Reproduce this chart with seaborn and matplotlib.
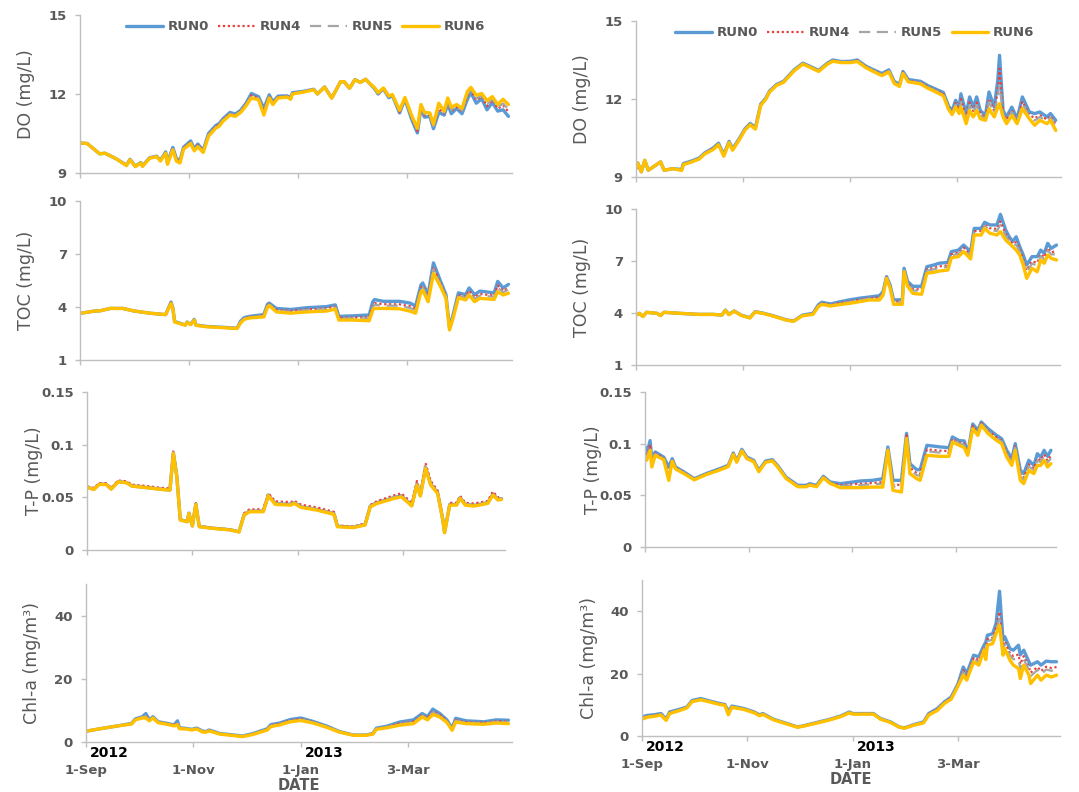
import matplotlib
matplotlib.use("Agg")
import matplotlib.pyplot as plt
import seaborn as sns
import pandas as pd

# ---- data: days since 1 Sep 2012 ----
# left column (site A)
DO_A_DAY = [0, 4, 11, 14, 20, 26, 28, 31, 34, 35,
            39, 43, 45, 48, 49, 52, 54, 56, 58, 62,
            64, 66, 69, 72, 76, 78, 80, 84, 87, 90,
            93, 96, 100, 103, 106, 108, 111, 116, 118, 119,
            125, 131, 133, 137, 141, 146, 148, 151, 154, 157,
            160, 162, 165, 167, 170, 173, 175, 179, 182, 186,
            189, 191, 193, 196, 198, 201, 204, 206, 208, 211,
            214, 217, 219, 222, 225, 228, 231, 234, 237, 240]
DO_A_RUN0 = [10.14, 10.12, 9.73, 9.75, 9.55, 9.30, 9.52, 9.26, 9.40, 9.27,
             9.58, 9.64, 9.48, 9.80, 9.40, 9.97, 9.55, 9.47, 9.98, 10.22,
             9.92, 10.10, 9.86, 10.50, 10.80, 10.88, 11.05, 11.30, 11.24, 11.38,
             11.65, 12.02, 11.90, 11.45, 11.97, 11.70, 11.92, 11.93, 11.86, 12.05,
             12.10, 12.18, 12.00, 12.27, 11.85, 12.47, 12.46, 12.22, 12.55, 12.44,
             12.56, 12.42, 12.20, 12.00, 12.20, 11.86, 11.94, 11.28, 11.80, 11.00,
             10.52, 11.45, 11.12, 11.15, 10.68, 11.30, 11.20, 11.62, 11.25, 11.45,
             11.25, 11.80, 12.05, 11.65, 11.82, 11.40, 11.68, 11.35, 11.40, 11.15]
DO_A_RUN4 = [10.14, 10.12, 9.73, 9.75, 9.55, 9.29, 9.51, 9.25, 9.39, 9.26,
             9.57, 9.63, 9.47, 9.78, 9.37, 9.93, 9.51, 9.43, 9.95, 10.18,
             9.89, 10.06, 9.83, 10.46, 10.76, 10.84, 11.01, 11.26, 11.20, 11.35,
             11.61, 11.95, 11.85, 11.35, 11.92, 11.66, 11.89, 11.91, 11.84, 12.03,
             12.09, 12.17, 12.00, 12.27, 11.85, 12.47, 12.46, 12.22, 12.55, 12.44,
             12.56, 12.42, 12.22, 12.02, 12.21, 11.88, 11.96, 11.32, 11.83, 11.06,
             10.59, 11.51, 11.19, 11.20, 10.75, 11.44, 11.26, 11.71, 11.35, 11.51,
             11.33, 11.92, 12.13, 11.77, 11.90, 11.54, 11.77, 11.45, 11.56, 11.33]
DO_A_RUN5 = [10.14, 10.12, 9.73, 9.75, 9.55, 9.29, 9.51, 9.25, 9.39, 9.26,
             9.57, 9.63, 9.46, 9.77, 9.36, 9.92, 9.49, 9.42, 9.93, 10.16,
             9.87, 10.04, 9.81, 10.44, 10.74, 10.82, 10.99, 11.24, 11.19, 11.33,
             11.59, 11.92, 11.83, 11.30, 11.90, 11.64, 11.88, 11.90, 11.82, 12.02,
             12.08, 12.17, 12.00, 12.26, 11.84, 12.47, 12.47, 12.22, 12.54, 12.44,
             12.56, 12.42, 12.22, 12.03, 12.22, 11.90, 11.96, 11.34, 11.84, 11.09,
             10.63, 11.54, 11.23, 11.23, 10.78, 11.51, 11.29, 11.76, 11.40, 11.54,
             11.37, 11.98, 12.17, 11.83, 11.94, 11.61, 11.81, 11.50, 11.64, 11.42]
DO_A_RUN6 = [10.14, 10.12, 9.73, 9.75, 9.55, 9.28, 9.50, 9.24, 9.38, 9.25,
             9.56, 9.62, 9.45, 9.75, 9.33, 9.88, 9.45, 9.38, 9.90, 10.12,
             9.84, 10.00, 9.78, 10.40, 10.70, 10.78, 10.96, 11.20, 11.15, 11.30,
             11.55, 11.85, 11.78, 11.20, 11.85, 11.60, 11.85, 11.88, 11.80, 12.00,
             12.07, 12.16, 12.00, 12.26, 11.84, 12.47, 12.47, 12.22, 12.54, 12.44,
             12.56, 12.42, 12.24, 12.05, 12.23, 11.92, 11.98, 11.38, 11.87, 11.15,
             10.70, 11.60, 11.30, 11.28, 10.85, 11.65, 11.35, 11.85, 11.50, 11.60,
             11.45, 12.10, 12.25, 11.95, 12.02, 11.75, 11.90, 11.60, 11.80, 11.60]

TOC_A_DAY = [0, 5, 8, 11, 17, 24, 30, 39, 48, 50,
             51, 52, 53, 56, 59, 60, 62, 64, 65, 71,
             82, 88, 90, 92, 95, 103, 105, 106, 110, 118,
             127, 138, 143, 145, 153, 162, 164, 165, 170, 179,
             185, 188, 191, 192, 195, 198, 202, 205, 207, 209,
             212, 216, 218, 221, 224, 232, 234, 237, 240]
TOC_A_RUN0 = [3.64, 3.72, 3.77, 3.78, 3.92, 3.92, 3.78, 3.65, 3.57, 4.05,
              4.28, 3.95, 3.18, 3.08, 2.98, 3.15, 3.02, 3.30, 2.98, 2.90,
              2.84, 2.80, 3.20, 3.40, 3.47, 3.57, 4.15, 4.22, 3.92, 3.86,
              3.96, 4.02, 4.12, 3.47, 3.50, 3.55, 4.30, 4.42, 4.32, 4.32,
              4.22, 4.05, 5.25, 5.36, 4.70, 6.50, 5.45, 4.70, 2.82, 3.56,
              4.80, 4.70, 5.08, 4.70, 4.90, 4.80, 5.45, 5.08, 5.28]
TOC_A_RUN4 = [3.64, 3.72, 3.77, 3.78, 3.92, 3.92, 3.78, 3.65, 3.57, 4.03,
              4.25, 3.93, 3.17, 3.07, 2.98, 3.14, 3.01, 3.28, 2.97, 2.89,
              2.83, 2.79, 3.16, 3.36, 3.43, 3.52, 4.08, 4.16, 3.84, 3.78,
              3.86, 3.92, 4.02, 3.39, 3.40, 3.42, 4.11, 4.22, 4.16, 4.15,
              4.04, 3.89, 5.10, 5.20, 4.54, 6.26, 5.33, 4.62, 2.77, 3.48,
              4.69, 4.58, 4.92, 4.54, 4.74, 4.65, 5.22, 4.92, 5.08]
TOC_A_RUN5 = [3.64, 3.72, 3.77, 3.78, 3.92, 3.92, 3.78, 3.65, 3.57, 4.02,
              4.23, 3.92, 3.16, 3.07, 2.97, 3.14, 3.01, 3.28, 2.97, 2.89,
              2.83, 2.79, 3.14, 3.34, 3.42, 3.49, 4.05, 4.14, 3.80, 3.73,
              3.82, 3.87, 3.98, 3.34, 3.36, 3.35, 4.01, 4.12, 4.08, 4.07,
              3.94, 3.81, 5.02, 5.11, 4.46, 6.14, 5.27, 4.57, 2.75, 3.44,
              4.64, 4.52, 4.84, 4.46, 4.65, 4.58, 5.10, 4.84, 4.98]
TOC_A_RUN6 = [3.64, 3.72, 3.77, 3.78, 3.92, 3.92, 3.78, 3.65, 3.57, 4.00,
              4.20, 3.90, 3.15, 3.06, 2.97, 3.13, 3.00, 3.26, 2.96, 2.88,
              2.82, 2.78, 3.10, 3.30, 3.38, 3.44, 3.98, 4.08, 3.72, 3.65,
              3.72, 3.77, 3.88, 3.26, 3.26, 3.22, 3.82, 3.92, 3.92, 3.90,
              3.76, 3.65, 4.87, 4.95, 4.30, 5.90, 5.15, 4.49, 2.70, 3.36,
              4.53, 4.40, 4.68, 4.30, 4.49, 4.43, 4.87, 4.68, 4.78]

TP_A_DAY = [0, 4, 7, 11, 14, 18, 23, 26, 33, 43,
            48, 50, 52, 54, 58, 59, 61, 63, 65, 73,
            83, 88, 91, 94, 102, 105, 109, 118, 120, 124,
            133, 143, 145, 154, 161, 164, 168, 178, 182, 186,
            188, 191, 193, 196, 199, 203, 206, 207, 210, 214,
            216, 219, 224, 232, 235, 238, 240]
TP_A_RUN0 = [.0596, .0577, .0624, .0624, .0580, .0649, .0640, .0608, .0596, .0577,
             .0570, .0922, .0700, .0287, .0270, .0350, .0229, .0437, .0223, .0207,
             .0192, .0173, .0336, .0368, .0368, .0522, .0440, .0433, .0449, .0410,
             .0385, .0344, .0226, .0216, .0241, .0417, .0450, .0498, .0513, .0455,
             .0423, .0625, .0520, .0785, .0624, .0544, .0288, .0167, .0432, .0432,
             .0497, .0432, .0423, .0449, .0529, .0481, .0487]
TP_A_RUN4 = [.0605, .0588, .0635, .0635, .0590, .0660, .0652, .0620, .0610, .0590,
             .0585, .0945, .0715, .0290, .0275, .0355, .0232, .0445, .0226, .0210,
             .0196, .0178, .0350, .0385, .0387, .0540, .0462, .0455, .0468, .0430,
             .0405, .0362, .0232, .0222, .0252, .0428, .0465, .0520, .0538, .0478,
             .0442, .0655, .0545, .0825, .0655, .0565, .0295, .0170, .0448, .0448,
             .0515, .0448, .0442, .0465, .0555, .0498, .0505]
TP_A_RUN5 = [.0598, .0580, .0628, .0628, .0583, .0652, .0644, .0612, .0600, .0581,
             .0575, .0928, .0703, .0287, .0271, .0351, .0229, .0438, .0223, .0207,
             .0193, .0174, .0340, .0372, .0374, .0526, .0446, .0439, .0455, .0416,
             .0390, .0348, .0226, .0216, .0243, .0418, .0452, .0503, .0520, .0460,
             .0427, .0632, .0525, .0795, .0632, .0550, .0290, .0167, .0436, .0436,
             .0501, .0436, .0428, .0452, .0535, .0484, .0492]
TP_A_RUN6 = [.0594, .0575, .0622, .0622, .0578, .0647, .0638, .0606, .0594, .0575,
             .0568, .0916, .0695, .0284, .0268, .0347, .0227, .0433, .0221, .0205,
             .0190, .0171, .0332, .0363, .0363, .0515, .0433, .0426, .0442, .0404,
             .0379, .0338, .0221, .0212, .0237, .0410, .0442, .0490, .0505, .0448,
             .0417, .0616, .0512, .0774, .0616, .0537, .0284, .0164, .0426, .0426,
             .0490, .0426, .0417, .0442, .0521, .0474, .0480]

CHL_A_DAY = [0, 8, 17, 26, 28, 32, 34, 36, 38, 41,
             46, 50, 52, 53, 57, 60, 63, 66, 68, 70,
             76, 84, 89, 95, 103, 105, 110, 116, 122, 129,
             137, 144, 152, 159, 163, 165, 171, 178, 186, 191,
             194, 197, 201, 205, 208, 210, 216, 226, 233, 240]
CHL_A_RUN0 = [3.4, 4.2, 5.0, 5.9, 7.3, 8.0, 9.0, 7.0, 8.0, 6.4,
              5.9, 5.4, 6.7, 4.5, 4.3, 4.0, 4.4, 3.5, 3.3, 3.8,
              2.7, 2.2, 1.9, 2.7, 4.2, 5.5, 6.0, 7.1, 7.6, 6.5,
              5.0, 3.3, 2.2, 2.2, 2.7, 4.4, 5.0, 6.3, 7.0, 9.0,
              8.0, 10.4, 9.0, 7.0, 4.3, 7.5, 6.7, 6.4, 7.0, 6.9]
CHL_A_RUN4 = [3.4, 4.2, 5.0, 5.8, 7.2, 7.8, 8.4, 6.9, 7.8, 6.3,
              5.8, 5.3, 6.2, 4.4, 4.2, 3.9, 4.3, 3.4, 3.2, 3.7,
              2.6, 2.1, 1.8, 2.6, 4.0, 5.3, 5.8, 6.8, 7.3, 6.3,
              4.8, 3.2, 2.2, 2.2, 2.6, 4.2, 4.8, 5.9, 6.5, 8.6,
              7.6, 9.7, 8.6, 6.7, 4.1, 7.0, 6.3, 6.1, 6.6, 6.5]
CHL_A_RUN5 = [3.4, 4.2, 5.0, 5.8, 7.1, 7.8, 8.2, 6.8, 7.8, 6.2,
              5.7, 5.2, 6.0, 4.3, 4.2, 3.9, 4.2, 3.3, 3.2, 3.6,
              2.6, 2.1, 1.8, 2.5, 3.9, 5.1, 5.6, 6.6, 7.1, 6.2,
              4.8, 3.2, 2.1, 2.1, 2.6, 4.2, 4.7, 5.7, 6.3, 8.3,
              7.4, 9.4, 8.3, 6.5, 3.9, 6.8, 6.1, 5.9, 6.4, 6.3]
CHL_A_RUN6 = [3.4, 4.2, 5.0, 5.7, 7.0, 7.6, 7.6, 6.7, 7.6, 6.1,
              5.6, 5.1, 5.5, 4.2, 4.1, 3.8, 4.1, 3.2, 3.1, 3.5,
              2.5, 2.0, 1.7, 2.4, 3.8, 4.9, 5.4, 6.4, 6.8, 6.0,
              4.6, 3.1, 2.1, 2.1, 2.5, 4.0, 4.5, 5.3, 5.8, 7.9,
              7.0, 8.7, 7.9, 6.2, 3.7, 6.3, 5.8, 5.6, 6.0, 5.8]

# right column (site B)
DO_B_DAY = [0, 1, 3, 5, 7, 14, 16, 21, 26, 27,
            31, 36, 39, 44, 47, 50, 53, 55, 59, 62,
            65, 68, 71, 74, 76, 80, 84, 90, 95, 99,
            104, 109, 112, 117, 122, 126, 131, 135, 140, 144,
            147, 150, 152, 155, 162, 166, 171, 175, 178, 180,
            182, 184, 185, 188, 190, 192, 194, 196, 199, 201,
            204, 206, 207, 209, 211, 214, 217, 220, 224, 227,
            230, 234, 236, 239]
DO_B_RUN0 = [9.32, 9.54, 9.20, 9.64, 9.26, 9.58, 9.26, 9.32, 9.29, 9.52,
             9.60, 9.73, 9.92, 10.12, 10.30, 9.86, 10.37, 10.08, 10.50, 10.85,
             11.06, 10.90, 11.80, 12.04, 12.30, 12.56, 12.68, 13.12, 13.38, 13.26,
             13.10, 13.38, 13.50, 13.44, 13.45, 13.50, 13.26, 13.13, 12.98, 13.12,
             12.68, 12.56, 13.06, 12.75, 12.68, 12.52, 12.37, 12.25, 11.72, 11.55,
             11.95, 11.69, 12.20, 11.44, 12.08, 11.69, 12.08, 11.56, 11.37, 12.27,
             11.69, 12.72, 13.68, 11.56, 11.31, 11.69, 11.24, 12.08, 11.50, 11.44,
             11.50, 11.31, 11.44, 11.18]
DO_B_RUN4 = [9.32, 9.54, 9.20, 9.64, 9.26, 9.58, 9.26, 9.32, 9.27, 9.50,
             9.58, 9.71, 9.90, 10.10, 10.28, 9.84, 10.35, 10.06, 10.48, 10.83,
             11.04, 10.88, 11.78, 12.02, 12.28, 12.54, 12.66, 13.10, 13.36, 13.24,
             13.08, 13.36, 13.48, 13.42, 13.43, 13.48, 13.24, 13.10, 12.95, 13.09,
             12.65, 12.53, 13.03, 12.71, 12.64, 12.48, 12.33, 12.20, 11.67, 11.49,
             11.85, 11.59, 12.00, 11.28, 11.87, 11.54, 11.87, 11.43, 11.29, 12.01,
             11.54, 12.31, 13.17, 11.46, 11.21, 11.56, 11.16, 11.90, 11.40, 11.26,
             11.37, 11.21, 11.34, 11.02]
DO_B_RUN5 = [9.32, 9.54, 9.20, 9.64, 9.26, 9.58, 9.26, 9.32, 9.27, 9.50,
             9.58, 9.71, 9.90, 10.08, 10.26, 9.82, 10.34, 10.05, 10.47, 10.82,
             11.03, 10.86, 11.77, 12.02, 12.28, 12.54, 12.66, 13.10, 13.36, 13.24,
             13.08, 13.36, 13.47, 13.42, 13.42, 13.46, 13.22, 13.09, 12.93, 13.07,
             12.63, 12.51, 13.01, 12.69, 12.62, 12.46, 12.30, 12.17, 11.65, 11.46,
             11.79, 11.54, 11.89, 11.21, 11.77, 11.46, 11.77, 11.37, 11.26, 11.89,
             11.46, 12.10, 12.53, 11.41, 11.15, 11.50, 11.13, 11.81, 11.34, 11.17,
             11.31, 11.15, 11.28, 10.95]
DO_B_RUN6 = [9.32, 9.54, 9.20, 9.64, 9.26, 9.58, 9.26, 9.32, 9.25, 9.48,
             9.56, 9.69, 9.88, 10.06, 10.24, 9.80, 10.32, 10.03, 10.45, 10.80,
             11.01, 10.84, 11.75, 12.00, 12.26, 12.52, 12.64, 13.08, 13.34, 13.22,
             13.06, 13.34, 13.45, 13.40, 13.40, 13.44, 13.20, 13.06, 12.90, 13.04,
             12.60, 12.48, 12.98, 12.66, 12.58, 12.42, 12.26, 12.12, 11.60, 11.40,
             11.69, 11.44, 11.69, 11.05, 11.56, 11.31, 11.56, 11.24, 11.18, 11.63,
             11.31, 11.69, 11.82, 11.31, 11.05, 11.37, 11.05, 11.63, 11.24, 10.99,
             11.18, 11.05, 11.18, 10.79]

TOC_B_DAY = [0, 2, 4, 6, 12, 14, 16, 25, 36, 44,
             49, 51, 53, 56, 60, 65, 68, 73, 78, 86,
             90, 95, 101, 104, 106, 111, 116, 122, 128, 133,
             139, 141, 143, 145, 147, 152, 153, 155, 158, 163,
             166, 170, 173, 178, 180, 184, 187, 191, 193, 197,
             199, 202, 206, 208, 211, 213, 215, 217, 219, 221,
             223, 226, 229, 231, 233, 235, 237, 240]
TOC_B_RUN0 = [3.88, 3.98, 3.80, 4.04, 3.98, 3.85, 4.04, 3.98, 3.92, 3.92,
              3.88, 4.17, 3.92, 4.12, 3.88, 3.73, 4.08, 3.98, 3.85, 3.60,
              3.54, 3.88, 3.98, 4.46, 4.62, 4.52, 4.64, 4.76, 4.86, 4.92,
              5.00, 5.23, 6.10, 5.62, 4.76, 4.76, 6.58, 5.82, 5.54, 5.54,
              6.67, 6.77, 6.87, 6.92, 7.54, 7.63, 7.92, 7.54, 8.88, 8.88,
              9.23, 9.08, 9.08, 9.69, 8.79, 8.40, 8.12, 8.40, 7.83, 7.35,
              6.77, 7.25, 7.25, 7.63, 7.44, 8.02, 7.73, 7.92]
TOC_B_RUN4 = [3.88, 3.98, 3.80, 4.04, 3.98, 3.85, 4.04, 3.98, 3.92, 3.92,
              3.88, 4.16, 3.91, 4.11, 3.87, 3.72, 4.07, 3.97, 3.84, 3.59,
              3.53, 3.86, 3.96, 4.42, 4.57, 4.47, 4.58, 4.68, 4.78, 4.85,
              4.90, 5.15, 6.06, 5.55, 4.66, 4.66, 6.50, 5.71, 5.38, 5.36,
              6.52, 6.60, 6.69, 6.74, 7.40, 7.48, 7.77, 7.37, 8.73, 8.73,
              9.09, 8.89, 8.85, 9.29, 8.56, 8.24, 8.00, 8.09, 7.64, 7.12,
              6.46, 6.98, 6.90, 7.40, 7.21, 7.75, 7.50, 7.58]
TOC_B_RUN5 = [3.88, 3.98, 3.80, 4.04, 3.98, 3.85, 4.04, 3.98, 3.92, 3.92,
              3.88, 4.16, 3.91, 4.11, 3.87, 3.72, 4.07, 3.97, 3.84, 3.59,
              3.53, 3.86, 3.94, 4.40, 4.55, 4.45, 4.54, 4.64, 4.74, 4.82,
              4.85, 5.11, 6.04, 5.52, 4.60, 4.60, 6.46, 5.66, 5.30, 5.27,
              6.44, 6.52, 6.60, 6.66, 7.33, 7.40, 7.69, 7.29, 8.65, 8.65,
              9.02, 8.78, 8.73, 9.09, 8.44, 8.17, 7.95, 7.94, 7.54, 7.00,
              6.31, 6.85, 6.74, 7.29, 7.10, 7.62, 7.38, 7.39]
TOC_B_RUN6 = [3.88, 3.98, 3.80, 4.04, 3.98, 3.85, 4.04, 3.98, 3.92, 3.92,
              3.88, 4.15, 3.90, 4.10, 3.86, 3.71, 4.06, 3.96, 3.83, 3.58,
              3.52, 3.84, 3.92, 4.35, 4.50, 4.40, 4.48, 4.56, 4.66, 4.75,
              4.75, 5.03, 6.00, 5.45, 4.50, 4.50, 6.38, 5.55, 5.13, 5.08,
              6.29, 6.35, 6.42, 6.48, 7.19, 7.25, 7.54, 7.12, 8.50, 8.50,
              8.88, 8.60, 8.50, 8.69, 8.21, 8.02, 7.83, 7.63, 7.35, 6.77,
              6.00, 6.58, 6.38, 7.06, 6.87, 7.35, 7.15, 7.06]

TP_B_DAY = [0, 1, 3, 4, 6, 11, 14, 16, 18, 23,
            29, 36, 44, 49, 52, 54, 57, 60, 64, 67,
            71, 75, 78, 83, 90, 95, 97, 101, 105, 109,
            115, 127, 134, 140, 143, 146, 151, 154, 156, 160,
            162, 166, 174, 179, 181, 185, 188, 190, 193, 196,
            198, 202, 207, 210, 213, 216, 218, 221, 223, 226,
            229, 231, 233, 235, 237, 239]
TP_B_RUN0 = [.0974, .0900, .1030, .0850, .0920, .0870, .0774, .0855, .0774, .0726,
             .0661, .0710, .0758, .0790, .0910, .0832, .0945, .0870, .0839, .0742,
             .0832, .0845, .0790, .0677, .0597, .0597, .0613, .0597, .0684, .0629,
             .0613, .0639, .0645, .0661, .0968, .0645, .0645, .1100, .0806, .0748,
             .0748, .0984, .0968, .0961, .1065, .1030, .1026, .0903, .1190, .1130,
             .1210, .1145, .1080, .1048, .0936, .0855, .1000, .0742, .0710, .0839,
             .0790, .0903, .0870, .0936, .0877, .0936]
TP_B_RUN4 = [.0920, .0876, .0992, .0820, .0907, .0860, .0722, .0845, .0766, .0720,
             .0657, .0706, .0753, .0785, .0904, .0827, .0939, .0864, .0833, .0736,
             .0827, .0840, .0785, .0672, .0591, .0591, .0608, .0591, .0678, .0623,
             .0598, .0613, .0619, .0629, .0955, .0605, .0600, .1080, .0768, .0713,
             .0707, .0945, .0932, .0928, .1045, .1012, .1000, .0897, .1172, .1110,
             .1198, .1126, .1061, .1029, .0910, .0829, .0974, .0703, .0671, .0800,
             .0758, .0858, .0838, .0897, .0836, .0884]
TP_B_RUN5 = [.0893, .0864, .0974, .0804, .0900, .0855, .0697, .0840, .0763, .0716,
             .0654, .0704, .0750, .0783, .0901, .0825, .0936, .0861, .0831, .0734,
             .0825, .0837, .0782, .0669, .0589, .0589, .0605, .0589, .0676, .0620,
             .0590, .0600, .0606, .0612, .0949, .0587, .0577, .1070, .0748, .0696,
             .0686, .0926, .0913, .0910, .1036, .1002, .0987, .0894, .1163, .1100,
             .1192, .1116, .1051, .1019, .0896, .0816, .0962, .0684, .0652, .0781,
             .0742, .0835, .0822, .0878, .0815, .0858]
TP_B_RUN6 = [.0839, .0840, .0936, .0774, .0887, .0845, .0645, .0830, .0755, .0710,
             .0650, .0700, .0745, .0778, .0895, .0820, .0930, .0855, .0825, .0728,
             .0820, .0832, .0777, .0664, .0583, .0583, .0600, .0583, .0670, .0615,
             .0574, .0574, .0580, .0580, .0936, .0548, .0532, .1050, .0710, .0661,
             .0645, .0887, .0877, .0877, .1016, .0984, .0961, .0887, .1145, .1080,
             .1180, .1097, .1032, .1000, .0870, .0790, .0936, .0645, .0613, .0742,
             .0710, .0790, .0790, .0839, .0774, .0806]

CHL_B_DAY = [0, 3, 7, 11, 14, 16, 22, 26, 29, 34,
             40, 45, 48, 50, 52, 59, 65, 68, 70, 76,
             84, 90, 93, 101, 109, 115, 120, 122, 128, 134,
             138, 144, 149, 152, 157, 163, 166, 171, 175, 179,
             183, 186, 188, 192, 195, 198, 199, 200, 203, 205,
             207, 209, 210, 213, 215, 218, 219, 221, 224, 225,
             229, 231, 234, 237, 240]
CHL_B_RUN0 = [6.1, 6.6, 6.8, 7.2, 5.4, 7.7, 8.6, 9.3, 11.4, 12.0,
              11.1, 10.4, 10.1, 7.8, 9.6, 8.8, 7.7, 6.8, 7.2, 5.4,
              4.0, 2.9, 3.2, 4.3, 5.4, 6.4, 7.7, 7.2, 7.2, 7.2,
              5.6, 4.5, 2.9, 2.6, 3.6, 4.5, 7.2, 8.8, 10.9, 12.5,
              16.8, 22.1, 20.0, 25.9, 25.4, 29.1, 30.0, 32.3, 32.8, 36.1,
              46.4, 30.7, 31.8, 28.0, 27.5, 29.1, 26.0, 27.5, 23.8, 22.7,
              23.8, 22.7, 24.0, 23.8, 23.8]
CHL_B_RUN4 = [5.8, 6.4, 6.6, 7.0, 5.2, 7.5, 8.4, 9.2, 11.2, 11.8,
              11.0, 10.3, 10.0, 7.4, 9.4, 8.7, 7.6, 6.7, 7.1, 5.3,
              3.9, 2.9, 3.2, 4.2, 5.3, 6.3, 7.6, 7.1, 7.1, 7.1,
              5.5, 4.4, 2.9, 2.6, 3.5, 4.4, 7.0, 8.6, 10.7, 12.2,
              16.5, 21.1, 19.2, 25.1, 24.3, 28.5, 27.8, 31.0, 31.5, 34.8,
              39.8, 28.8, 30.3, 26.5, 25.6, 26.1, 23.0, 25.6, 22.1, 20.3,
              22.1, 20.8, 22.2, 21.8, 22.1]
CHL_B_RUN5 = [5.7, 6.3, 6.5, 6.9, 5.2, 7.4, 8.4, 9.1, 11.2, 11.8,
              10.9, 10.2, 9.9, 7.2, 9.4, 8.6, 7.5, 6.6, 7.0, 5.3,
              3.9, 2.8, 3.1, 4.2, 5.3, 6.3, 7.5, 7.1, 7.1, 7.1,
              5.5, 4.4, 2.8, 2.5, 3.5, 4.3, 6.9, 8.4, 10.6, 12.1,
              16.4, 20.5, 18.7, 24.6, 23.7, 28.1, 26.7, 30.4, 30.9, 34.1,
              37.5, 27.8, 29.5, 25.8, 24.6, 24.6, 21.4, 24.6, 21.2, 19.2,
              21.2, 19.8, 21.3, 20.9, 21.2]
CHL_B_RUN6 = [5.4, 6.0, 6.3, 6.7, 5.0, 7.2, 8.2, 9.0, 11.0, 11.6,
              10.8, 10.1, 9.8, 6.8, 9.2, 8.5, 7.4, 6.5, 6.9, 5.2,
              3.8, 2.8, 3.1, 4.1, 5.2, 6.2, 7.4, 7.0, 7.0, 7.0,
              5.4, 4.3, 2.8, 2.5, 3.4, 4.2, 6.7, 8.2, 10.4, 11.8,
              16.1, 19.5, 17.9, 23.8, 22.7, 27.5, 24.5, 29.1, 29.6, 32.8,
              35.5, 25.9, 28.0, 24.3, 22.7, 21.6, 18.4, 22.7, 19.5, 16.8,
              19.5, 17.9, 19.5, 18.9, 19.5]

RUN_NAMES = ["RUN0", "RUN4", "RUN5", "RUN6"]
TICK_DATES = ["2012-09-01", "2012-11-01", "2013-01-01", "2013-03-03"]
TICK_LABELS = ["1-Sep", "1-Nov", "1-Jan", "3-Mar"]
YEAR_DATES = ["2012-09-01", "2013-01-01"]
YEAR_LABELS = ["2012", "2013"]

# ---- style ----
START = pd.Timestamp("2012-09-01")
END = pd.Timestamp("2013-05-01")
GREY = "#595959"
SPINE = "#bfbfbf"
RUN_STYLE = {
    "RUN0": dict(color="#5b9bd5", linewidth=2.4, linestyle="-"),
    "RUN4": dict(color="#e8413c", linewidth=1.6, linestyle=(0, (1, 1.2))),
    "RUN5": dict(color="#a5a5a5", linewidth=1.6, linestyle=(0, (5, 3))),
    "RUN6": dict(color="#ffc000", linewidth=2.4, linestyle="-"),
}

sns.set_theme(style="white")
plt.rcParams["font.family"] = ["DejaVu Sans"]

W, H = 1079, 792
fig = plt.figure(figsize=(W / 100, H / 100), dpi=100)


def place(x0, x1, ytop, ybot):
    return [x0 / W, 1 - ybot / H, (x1 - x0) / W, (ybot - ytop) / H]


# (axes box in pixels, day list, runs, ylim, yticks, ytick labels, ylabel)
panels = [
    (place(80, 512, 15, 173), DO_A_DAY, [DO_A_RUN0, DO_A_RUN4, DO_A_RUN5, DO_A_RUN6],
     (9, 15), [9, 12, 15], ["9", "12", "15"], "DO (mg/L)"),
    (place(80, 512, 201, 360), TOC_A_DAY, [TOC_A_RUN0, TOC_A_RUN4, TOC_A_RUN5, TOC_A_RUN6],
     (1, 10), [1, 4, 7, 10], ["1", "4", "7", "10"], "TOC (mg/L)"),
    (place(87, 505, 392, 550), TP_A_DAY, [TP_A_RUN0, TP_A_RUN4, TP_A_RUN5, TP_A_RUN6],
     (0, 0.15), [0, 0.05, 0.1, 0.15], ["0", "0.05", "0.1", "0.15"], "T-P (mg/L)"),
    (place(86, 512, 584, 742), CHL_A_DAY, [CHL_A_RUN0, CHL_A_RUN4, CHL_A_RUN5, CHL_A_RUN6],
     (0, 50), [0, 20, 40], ["0", "20", "40"], "Chl-a (mg/m³)"),
    (place(636, 1061, 21, 177), DO_B_DAY, [DO_B_RUN0, DO_B_RUN4, DO_B_RUN5, DO_B_RUN6],
     (9, 15), [9, 12, 15], ["9", "12", "15"], "DO (mg/L)"),
    (place(636, 1060, 209, 365), TOC_B_DAY, [TOC_B_RUN0, TOC_B_RUN4, TOC_B_RUN5, TOC_B_RUN6],
     (1, 10), [1, 4, 7, 10], ["1", "4", "7", "10"], "TOC (mg/L)"),
    (place(645, 1056, 392, 547), TP_B_DAY, [TP_B_RUN0, TP_B_RUN4, TP_B_RUN5, TP_B_RUN6],
     (0, 0.15), [0, 0.05, 0.1, 0.15], ["0", "0.05", "0.1", "0.15"], "T-P (mg/L)"),
    (place(642, 1060, 580, 736), CHL_B_DAY, [CHL_B_RUN0, CHL_B_RUN4, CHL_B_RUN5, CHL_B_RUN6],
     (0, 50), [0, 20, 40], ["0", "20", "40"], "Chl-a (mg/m³)"),
]

for i, (box, day, runs, ylim, yticks, ylabels, ylabel) in enumerate(panels):
    ax = fig.add_axes(box)
    dates = START + pd.to_timedelta(day, unit="D")
    for name, vals in zip(RUN_NAMES, runs):
        sns.lineplot(x=dates, y=vals, ax=ax, label=name, legend=False, **RUN_STYLE[name])

    ax.set_xlim(START, END)
    ax.set_ylim(*ylim)
    ax.set_yticks(yticks)
    ax.set_yticklabels(ylabels)
    ax.set_xticks(pd.to_datetime(TICK_DATES))
    sns.despine(ax=ax)
    for side in ["left", "bottom"]:
        ax.spines[side].set_color(SPINE)
        ax.spines[side].set_linewidth(1.0)
    ax.tick_params(axis="y", left=True, direction="out", length=3.5, width=1,
                   color=SPINE, pad=6, labelsize=9.5, labelcolor=GREY)
    ax.tick_params(axis="x", bottom=True, direction="out", length=3.5, width=1,
                   color=SPINE, pad=12, labelsize=9.5, labelcolor=GREY)
    for lab in ax.get_yticklabels():
        lab.set_fontweight("bold")
    ax.set_ylabel(ylabel, fontsize=12.5, color=GREY)
    ax.yaxis.set_label_coords(-0.105, 0.5)

    bottom_row = i % 4 == 3
    if bottom_row:
        ax.set_xticklabels(TICK_LABELS)
        for lab in ax.get_xticklabels():
            lab.set_fontweight("bold")
        ax.set_xlabel("DATE", fontsize=10.5, fontweight="bold", color=GREY, labelpad=1)
        for d, yr in zip(YEAR_DATES, YEAR_LABELS):
            ax.annotate(yr, xy=(pd.Timestamp(d), 0), xycoords=("data", "axes fraction"),
                        xytext=(4, -11), textcoords="offset pixels", ha="left", va="center",
                        fontsize=10, fontweight="bold", color="black")
    else:
        ax.set_xticklabels([])
        ax.set_xlabel("")

    if i % 4 == 0:
        ax.legend(ncol=4, loc="upper right", bbox_to_anchor=(0.95, 1.0), frameon=False,
                  handlelength=2.8, handletextpad=0.35, columnspacing=0.7, borderaxespad=0,
                  prop={"weight": "bold", "size": 9.5}, labelcolor=GREY)

fig.savefig("out.png", dpi=100)
